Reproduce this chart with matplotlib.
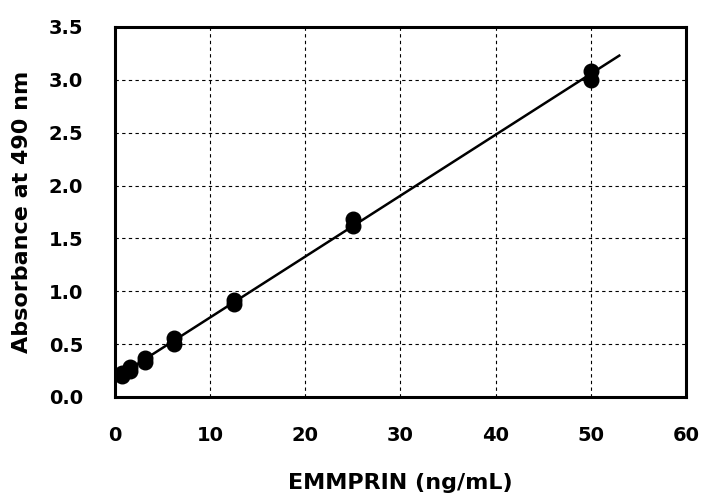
import numpy as np
import matplotlib
matplotlib.use("Agg")
import matplotlib.pyplot as plt

plt.rcParams['font.family'] = ['DejaVu Sans']
plt.rcParams['font.weight'] = 'bold'

# EMMPRIN standard curve, duplicate wells
conc = [0.78, 0.78, 1.56, 1.56, 3.125, 3.125, 6.25, 6.25, 12.5, 12.5, 25, 25, 50, 50]
absorb = [0.20, 0.23, 0.25, 0.28, 0.33, 0.37, 0.50, 0.56, 0.88, 0.92, 1.62, 1.68, 3.00, 3.08]
fit_end = 53

xticks = [0, 10, 20, 30, 40, 50, 60]
yticks = [0.0, 0.5, 1.0, 1.5, 2.0, 2.5, 3.0, 3.5]

fig = plt.figure(figsize=(7.03, 4.95), dpi=100)
ax = fig.add_axes([0.1636, 0.198, 0.812, 0.7475])

# linear regression line
k, b = np.polyfit(conc, absorb, 1)
xl = np.array([min(conc), fit_end])
ax.plot(xl, k * xl + b, color='black', lw=1.8, zorder=2)

ax.scatter(conc, absorb, s=110, color='black', zorder=3)

ax.set_xlim(0, 60)
ax.set_ylim(0, 3.5)
ax.set_xticks(xticks)
ax.set_yticks(yticks)
ax.set_yticklabels(['%.1f' % v for v in yticks])
ax.grid(True, color='black', linestyle=(0, (3, 3)), lw=0.8)
ax.tick_params(length=0, labelsize=14)
ax.tick_params(axis='x', pad=21)
ax.tick_params(axis='y', pad=23)
for s in ax.spines.values():
    s.set_linewidth(2.2)

ax.set_xlabel('EMMPRIN (ng/mL)', fontsize=16, fontweight='bold', labelpad=20)
ax.set_ylabel('Absorbance at 490 nm', fontsize=16, fontweight='bold', labelpad=12)

fig.savefig('out.png', dpi=100)
